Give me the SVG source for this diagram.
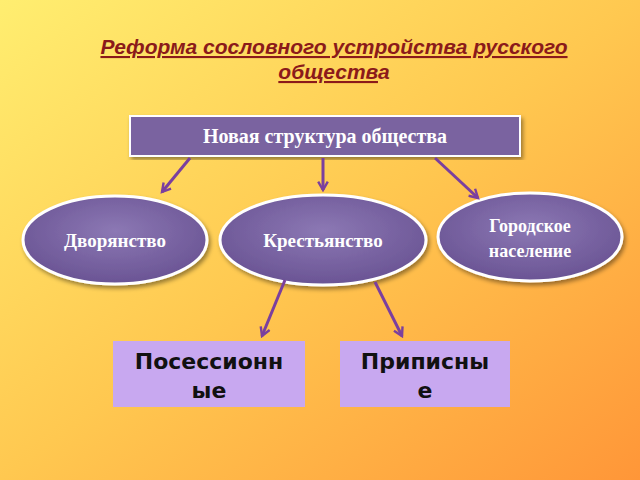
<svg xmlns="http://www.w3.org/2000/svg" width="640" height="480" viewBox="0 0 640 480">
<defs>
<linearGradient id="bg" x1="0" y1="0" x2="1" y2="1"><stop offset="0" stop-color="#FFEE70"/><stop offset="0.5" stop-color="#FFC850"/><stop offset="1" stop-color="#FF9638"/></linearGradient>
<radialGradient id="el" cx="0.5" cy="0.4" r="0.6"><stop offset="0" stop-color="#8C78B4"/><stop offset="1" stop-color="#6A5494"/></radialGradient>
<marker id="ah" viewBox="0 0 10 10" refX="8" refY="5" markerWidth="4" markerHeight="4" orient="auto"><path d="M1,1 L8,5 L1,9" fill="none" stroke="#7B3F9E" stroke-width="2"/></marker>
<filter id="sh"><feDropShadow dx="2" dy="3" stdDeviation="2" flood-opacity="0.4"/></filter>
</defs>
<style>
.c{stroke:#7B3F9E;stroke-width:3;fill:none;marker-end:url(#ah)}
.e{fill:url(#el);stroke:#fff;stroke-width:3;filter:url(#sh)}
.t{font-family:"Liberation Serif",serif;font-weight:bold;fill:#fff;text-anchor:middle;font-size:18px}
.b{fill:#C8A8F0}
.bt{font-family:"DejaVu Sans",sans-serif;font-weight:bold;font-size:22px;fill:#111;text-anchor:middle}
</style>
<rect width="640" height="480" fill="url(#bg)"/>
<g id="title" font-family="Liberation Sans,sans-serif" font-style="italic" font-weight="bold" font-size="21" fill="#8B1A1A" text-anchor="middle">
<text x="334" y="54" text-decoration="underline">Реформа сословного устройства русского</text>
<text x="334" y="79"><tspan text-decoration="underline">обществ</tspan>а</text>
</g>
<g id="top"><rect x="130" y="116" width="390" height="40" fill="#7A64A0" stroke="#fff" stroke-width="2" filter="url(#sh)"/><text class="t" x="325" y="143" style="font-size:20px">Новая структура общества</text></g>
<g id="n1"><ellipse class="e" cx="115" cy="240" rx="92" ry="44"/><text class="t" x="115" y="247" style="font-size:19px">Дворянство</text></g>
<g id="n2"><ellipse class="e" cx="323" cy="240" rx="103" ry="45"/><text class="t" x="323" y="247" style="font-size:19px">Крестьянство</text></g>
<g id="n3"><ellipse class="e" cx="530" cy="237" rx="92" ry="44"/><text class="t" x="530" y="232">Городское</text><text class="t" x="530" y="257">население</text></g>
<g id="n4"><rect class="b" x="113" y="341" width="192" height="66"/><text class="bt" x="209" y="369">Посессионн</text><text class="bt" x="209" y="398">ые</text></g>
<g id="n5"><rect class="b" x="340" y="341" width="170" height="66"/><text class="bt" x="425" y="369">Приписны</text><text class="bt" x="425" y="398">е</text></g>
<g id="connectors">
<path class="c" d="M190,158 L162,192"/>
<path class="c" d="M323,158 L323,190"/>
<path class="c" d="M435,158 L478,198"/>
<path class="c" d="M285,280 L262,336"/>
<path class="c" d="M375,282 L402,336"/>
</g>
</svg>
